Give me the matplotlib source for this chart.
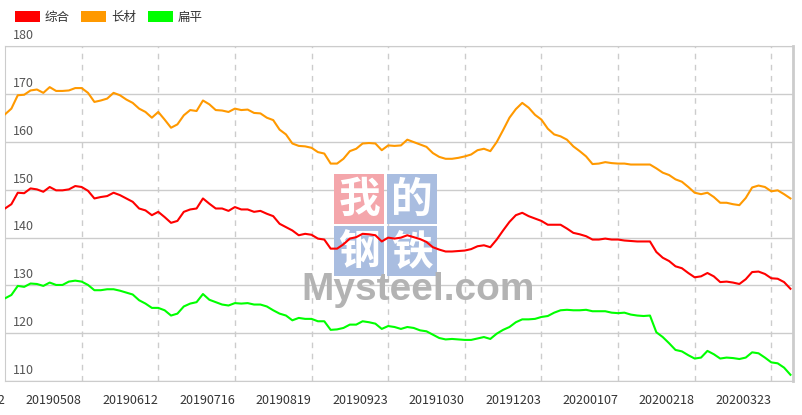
import matplotlib
matplotlib.use('Agg')
import matplotlib.pyplot as plt
from matplotlib.patches import Patch, Rectangle
from matplotlib import font_manager

plt.rcParams['font.family'] = ['Noto Sans CJK SC', 'DejaVu Sans']

# one value every ~2 trading days
zonghe = [146.1, 147.0, 149.4, 149.3, 150.3, 150.1, 149.6, 150.6, 149.9, 149.9,
          150.1, 150.8, 150.6, 149.8, 148.2, 148.5, 148.7, 149.4, 148.9, 148.2,
          147.5, 146.1, 145.7, 144.7, 145.4, 144.3, 143.1, 143.5, 145.4, 145.9,
          146.1, 148.2, 147.1, 146.1, 146.1, 145.6, 146.4, 145.9, 145.9, 145.4,
          145.6, 145.0, 144.5, 142.9, 142.2, 141.5, 140.5, 140.8, 140.6, 139.8,
          139.6, 137.7, 137.7, 138.6, 139.8, 140.1, 140.8, 140.7, 140.5, 139.2,
          140.0, 139.8, 140.0, 140.5, 140.1, 139.7, 139.1, 138.0, 137.5, 137.1,
          137.1, 137.2, 137.3, 137.6, 138.2, 138.4, 138.0, 139.6, 141.5, 143.3,
          144.7, 145.2, 144.5, 144.0, 143.5, 142.7, 142.7, 142.7, 141.9, 141.0,
          140.7, 140.3, 139.6, 139.6, 139.8, 139.6, 139.6, 139.4, 139.3, 139.2,
          139.2, 139.2, 137.0, 135.8, 135.1, 134.0, 133.6, 132.6, 131.7, 131.9,
          132.6, 131.9, 130.7, 130.8, 130.6, 130.3, 131.3, 132.8, 132.9, 132.4,
          131.5, 131.4, 130.7, 129.3]
changcai = [165.8, 167.0, 169.8, 169.9, 170.8, 171.0, 170.3, 171.5, 170.7, 170.7,
            170.8, 171.3, 171.3, 170.3, 168.4, 168.7, 169.1, 170.3, 169.8, 168.9,
            168.2, 167.0, 166.3, 165.1, 166.3, 164.7, 163.0, 163.7, 165.6, 166.7,
            166.5, 168.7, 167.9, 166.7, 166.6, 166.3, 167.0, 166.7, 166.8, 166.1,
            166.0, 165.1, 164.6, 162.6, 161.6, 159.7, 159.2, 159.1, 158.8, 157.9,
            157.6, 155.5, 155.5, 156.5, 158.1, 158.6, 159.7, 159.8, 159.7, 158.3,
            159.3, 159.2, 159.3, 160.5, 160.0, 159.5, 159.0, 157.7, 156.9, 156.5,
            156.5, 156.7, 157.0, 157.4, 158.3, 158.6, 158.1, 160.0, 162.5, 165.1,
            166.9, 168.2, 167.2, 165.7, 164.7, 162.8, 161.6, 161.2, 160.5, 159.1,
            158.1, 157.0, 155.4, 155.5, 155.8, 155.6, 155.5, 155.5, 155.3, 155.3,
            155.3, 155.3, 154.5, 153.6, 153.1, 152.2, 151.7, 150.6, 149.4, 149.1,
            149.4, 148.5, 147.3, 147.3, 147.0, 146.8, 148.3, 150.5, 150.9, 150.6,
            149.7, 149.9, 149.1, 148.2]
bianping = [127.3, 128.0, 129.9, 129.7, 130.4, 130.3, 129.9, 130.6, 130.1, 130.1,
            130.8, 131.0, 130.8, 130.1, 129.0, 129.0, 129.2, 129.2, 128.9, 128.5,
            128.1, 126.9, 126.2, 125.3, 125.3, 124.8, 123.7, 124.1, 125.6, 126.2,
            126.5, 128.2, 127.0, 126.5, 126.0, 125.8, 126.3, 126.2, 126.3, 126.0,
            126.0, 125.6, 124.8, 124.1, 123.7, 122.7, 123.2, 123.0, 123.0, 122.5,
            122.5, 120.7, 120.8, 121.1, 121.8, 121.8, 122.5, 122.3, 122.0, 120.9,
            121.5, 121.3, 120.9, 121.3, 121.1, 120.6, 120.4, 119.7, 119.0, 118.7,
            118.8, 118.7, 118.6, 118.6, 118.9, 119.2, 118.8, 119.9, 120.7, 121.3,
            122.3, 122.9, 122.9, 123.0, 123.4, 123.6, 124.3, 124.8, 124.9, 124.8,
            124.8, 124.9, 124.6, 124.6, 124.6, 124.3, 124.2, 124.3, 123.9, 123.7,
            123.6, 123.7, 120.2, 119.2, 117.9, 116.5, 116.2, 115.4, 114.7, 114.9,
            116.3, 115.6, 114.7, 114.9, 114.8, 114.6, 114.9, 116.0, 115.8, 114.9,
            113.9, 113.7, 112.8, 111.3]
tick_labels = ['20190402', '20190508', '20190612', '20190716', '20190819', '20190923',
               '20191030', '20191203', '20200107', '20200218', '20200323']
series = [('综合', zonghe, '#ff0000'), ('长材', changcai, '#ff9900'), ('扁平', bianping, '#00ff00')]

W, H = 803, 415
fig = plt.figure(figsize=(W / 100, H / 100), dpi=100)
ax = fig.add_axes([5 / W, 34 / H, 788 / W, 334.5 / H])

def fx(x):
    return x / W

def fy(y):
    return 1 - y / H

x = list(range(len(zonghe)))
for name, vals, c in series:
    ax.plot(x, vals, color=c, lw=1.5, zorder=3)

ax.set_xlim(0, 123.4)
ax.set_ylim(110, 180)
ticks = [i * 12 for i in range(len(tick_labels))]
ax.set_xticks(ticks)
ax.set_xticklabels(tick_labels, ha='right', fontsize=9, color='#333333')
ax.tick_params(axis='x', length=0, pad=9)
ax.set_yticks(range(110, 181, 10))
ax.set_yticklabels([])
ax.tick_params(axis='y', length=0)
ax.set_axisbelow(True)
ax.grid(axis='y', color='#cccccc', lw=1)
for t in ticks[1:]:
    ax.axvline(t, color='#cccccc', lw=1, ls=(0, (4, 4)), zorder=0.5)
for s in ax.spines.values():
    s.set_color('#cccccc')
ax.spines['right'].set_linewidth(2)

for v in range(110, 181, 10):
    ax.annotate(str(v), xy=(0, v), xycoords=('axes fraction', 'data'),
                xytext=(6, 3), textcoords='offset points', va='bottom', ha='left',
                fontsize=9, color='#555555', annotation_clip=False)

# watermark
boxes = [(334, 174, '#f4a6ab', '我'), (387, 174, '#a9bde0', '的'),
         (334, 226, '#a9bde0', '钢'), (387, 226, '#a9bde0', '铁')]
for bx, by, bc, ch in boxes:
    ax.add_patch(Rectangle((fx(bx), fy(by + 50)), 50 / W, 50 / H, transform=fig.transFigure,
                           facecolor=bc, edgecolor='none', zorder=1, clip_on=False))
    ax.text(fx(bx + 25), fy(by + 26), ch, transform=fig.transFigure, ha='center', va='center',
            fontsize=30, fontweight='bold', color='white', zorder=1.1)

names = {f.name for f in font_manager.fontManager.ttflist}
if 'Liberation Sans Narrow' in names:
    wm_font, wm_size = 'Liberation Sans Narrow', 35
else:
    wm_font, wm_size = 'Liberation Sans', 28
ax.text(fx(301), fy(300), 'Mysteel.com', transform=fig.transFigure, ha='left', va='baseline',
        fontsize=wm_size, fontweight='bold', color='#b3b3b3', family=wm_font, zorder=1.2)

handles = [Patch(facecolor=c, edgecolor='none') for _, _, c in series]
fig.legend(handles, [n for n, _, _ in series], loc='upper left', bbox_to_anchor=(fx(15), fy(11)),
           ncol=3, frameon=False, fontsize=9, handlelength=2.0, handleheight=1.0,
           handletextpad=0.4, columnspacing=0.9, borderpad=0, borderaxespad=0, labelcolor='#333333')

fig.savefig('out.png', dpi=100)
